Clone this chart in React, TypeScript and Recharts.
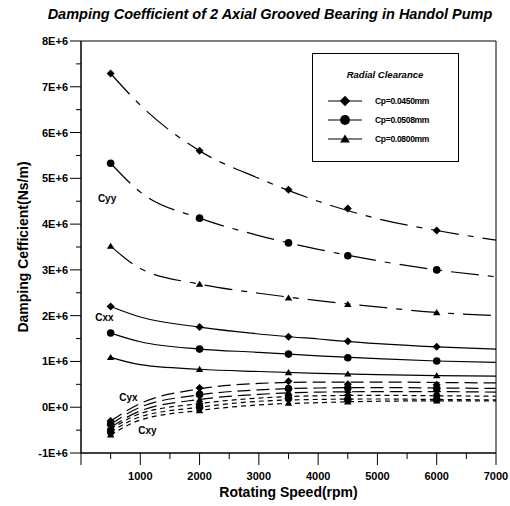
import { ComposedChart, Line, Scatter, XAxis, YAxis, ReferenceArea, ReferenceDot, Legend } from 'recharts'

const FONT = "'Liberation Sans', Arial, sans-serif"

const testSpeeds = [500, 2000, 3500, 4500, 6000]
const fitSpeeds = [500, 1000, 2000, 3000, 4000, 5000, 6000, 7000]

const xTicks = [0, 500, 1000, 1500, 2000, 2500, 3000, 3500, 4000, 4500, 5000, 5500, 6000, 6500, 7000]
const yTicks = [-1e6, -0.5e6, 0, 0.5e6, 1e6, 1.5e6, 2e6, 2.5e6, 3e6, 3.5e6, 4e6, 4.5e6, 5e6, 5.5e6, 6e6, 6.5e6, 7e6, 7.5e6, 8e6]
const yTickLabels: Record<string, string> = {
  '-1000000': '-1E+6', '0': '0E+0', '1000000': '1E+6', '2000000': '2E+6', '3000000': '3E+6',
  '4000000': '4E+6', '5000000': '5E+6', '6000000': '6E+6', '7000000': '7E+6', '8000000': '8E+6',
}

const clearances = ['Cp=0.0450mm', 'Cp=0.0508mm', 'Cp=0.0800mm']
const shapes = ['diamond', 'circle', 'triangle']

// Cyy
const cyy0450 = [7.29e6, 5.6e6, 4.75e6, 4.34e6, 3.86e6]
const cyy0508 = [5.33e6, 4.13e6, 3.59e6, 3.31e6, 3.0e6]
const cyy0800 = [3.52e6, 2.69e6, 2.39e6, 2.25e6, 2.07e6]
const cyy0450Fit = [7.29e6, 6.6e6, 5.6e6, 5.0e6, 4.5e6, 4.12e6, 3.86e6, 3.65e6]
const cyy0508Fit = [5.33e6, 4.7e6, 4.13e6, 3.75e6, 3.45e6, 3.2e6, 3.0e6, 2.85e6]
const cyy0800Fit = [3.52e6, 3.03e6, 2.69e6, 2.49e6, 2.33e6, 2.19e6, 2.07e6, 2.0e6]

// Cxx
const cxx0450 = [2.2e6, 1.75e6, 1.54e6, 1.44e6, 1.32e6]
const cxx0508 = [1.62e6, 1.27e6, 1.16e6, 1.08e6, 1.01e6]
const cxx0800 = [1.09e6, 0.83e6, 0.76e6, 0.73e6, 0.69e6]
const cxx0450Fit = [2.2e6, 1.97e6, 1.75e6, 1.6e6, 1.49e6, 1.39e6, 1.32e6, 1.27e6]
const cxx0508Fit = [1.62e6, 1.43e6, 1.27e6, 1.2e6, 1.12e6, 1.06e6, 1.01e6, 0.98e6]
const cxx0800Fit = [1.09e6, 0.93e6, 0.83e6, 0.78e6, 0.74e6, 0.71e6, 0.69e6, 0.68e6]

// Cyx
const cyx0450 = [-0.3e6, 0.42e6, 0.57e6, 0.5e6, 0.49e6]
const cyx0508 = [-0.37e6, 0.28e6, 0.41e6, 0.42e6, 0.41e6]
const cyx0800 = [-0.44e6, 0.17e6, 0.33e6, 0.37e6, 0.33e6]
const cyx0450Fit = [-0.3e6, 0.08e6, 0.4e6, 0.52e6, 0.55e6, 0.55e6, 0.54e6, 0.53e6]
const cyx0508Fit = [-0.37e6, 0.0, 0.27e6, 0.38e6, 0.42e6, 0.43e6, 0.42e6, 0.41e6]
const cyx0800Fit = [-0.44e6, -0.08e6, 0.17e6, 0.28e6, 0.33e6, 0.34e6, 0.34e6, 0.33e6]

// Cxy
const cxy0450 = [-0.48e6, 0.07e6, 0.26e6, 0.26e6, 0.25e6]
const cxy0508 = [-0.54e6, 0.0, 0.19e6, 0.17e6, 0.17e6]
const cxy0800 = [-0.6e6, -0.07e6, 0.09e6, 0.12e6, 0.14e6]
const cxy0450Fit = [-0.48e6, -0.14e6, 0.08e6, 0.2e6, 0.25e6, 0.26e6, 0.25e6, 0.24e6]
const cxy0508Fit = [-0.54e6, -0.21e6, 0.0, 0.13e6, 0.17e6, 0.18e6, 0.17e6, 0.16e6]
const cxy0800Fit = [-0.6e6, -0.28e6, -0.07e6, 0.05e6, 0.1e6, 0.13e6, 0.14e6, 0.14e6]

const toRows = (xs: number[], ys: number[]) => xs.map((x, i) => ({ x, y: ys[i] }))

const groups = [
  { name: 'Cyy', dash: '28 9 6 9', test: [cyy0450, cyy0508, cyy0800], fit: [cyy0450Fit, cyy0508Fit, cyy0800Fit] },
  { name: 'Cxx', dash: undefined, test: [cxx0450, cxx0508, cxx0800], fit: [cxx0450Fit, cxx0508Fit, cxx0800Fit] },
  { name: 'Cyx', dash: '13 6', test: [cyx0450, cyx0508, cyx0800], fit: [cyx0450Fit, cyx0508Fit, cyx0800Fit] },
  { name: 'Cxy', dash: '5 4', test: [cxy0450, cxy0508, cxy0800], fit: [cxy0450Fit, cxy0508Fit, cxy0800Fit] },
]

const annotations = [
  { text: 'Cyy', x: 440, y: 4.56e6 },
  { text: 'Cxx', x: 395, y: 1.97e6 },
  { text: 'Cyx', x: 800, y: 0.22e6 },
  { text: 'Cxy', x: 1120, y: -0.5e6 },
]

function Marker({ kind, cx, cy, s = 1 }: { kind: string; cx: number; cy: number; s?: number }) {
  if (kind === 'diamond') {
    const r = 4 * s
    return <polygon points={`${cx},${cy - r} ${cx + r},${cy} ${cx},${cy + r} ${cx - r},${cy}`} fill="#000" />
  }
  if (kind === 'circle') return <circle cx={cx} cy={cy} r={3.8 * s} fill="#000" />
  const h = 3.4 * s
  return <polygon points={`${cx},${cy - h} ${cx + h * 1.1},${cy + h * 0.8} ${cx - h * 1.1},${cy + h * 0.8}`} fill="#000" />
}

const XTick = ({ x, y, payload }: any) => {
  const v = payload.value
  const major = v % 1000 === 0
  return (
    <g>
      <line x1={x} y1={y} x2={x} y2={y + (major ? 12 : 6)} stroke="#000" strokeWidth={1} />
      {major && v > 0 && (
        <text x={x} y={y + 27} textAnchor="middle" fontSize={11} fontWeight="bold" fontFamily={FONT} fill="#000">
          {v}
        </text>
      )}
    </g>
  )
}

const YTick = ({ x, y, payload }: any) => {
  const label = yTickLabels[String(payload.value)]
  return (
    <g>
      <line x1={x} y1={y} x2={x - (label ? 11 : 5)} y2={y} stroke="#000" strokeWidth={1} />
      {label && (
        <text x={x - 13} y={y + 4} textAnchor="end" fontSize={11} fontWeight="bold" fontFamily={FONT} fill="#000">
          {label}
        </text>
      )}
    </g>
  )
}

const LegendBox = () => (
  <svg width={147} height={109} style={{ display: 'block' }}>
    <rect x={0.5} y={0.5} width={146} height={108} fill="#fff" stroke="#000" strokeWidth={1} />
    <text x={73} y={25} textAnchor="middle" fontSize={9.5} fontStyle="italic" fontWeight="bold" fontFamily={FONT} fill="#000">
      Radial Clearance
    </text>
    {clearances.map((c, i) => {
      const cy = 48 + i * 19
      return (
        <g key={c}>
          <line x1={16} y1={cy} x2={50} y2={cy} stroke="#000" strokeWidth={1.2} />
          <Marker kind={shapes[i]} cx={33} cy={cy} s={1.3} />
          <text x={63} y={cy + 3} fontSize={8.5} fontWeight="bold" fontFamily={FONT} fill="#000" letterSpacing={-0.3}>
            {c}
          </text>
        </g>
      )
    })}
  </svg>
)

const YLabel = ({ viewBox }: any) => {
  const cx = viewBox.x + 23
  const cy = viewBox.y + viewBox.height / 2
  return (
    <text transform={`translate(${cx},${cy}) rotate(-90)`} textAnchor="middle" dominantBaseline="central" fontSize={14} fontWeight="bold" fontFamily={FONT} fill="#000">
      Damping Cefficient(Ns/m)
    </text>
  )
}

export default function App() {
  return (
    <div style={{ position: 'absolute', left: 0, top: 0, width: 510, height: 506, background: '#fff' }}>
      <div
        style={{
          position: 'absolute', left: 0, top: 6, width: 540, textAlign: 'center', zIndex: 2,
          fontFamily: FONT, fontWeight: 'bold', fontStyle: 'italic', fontSize: 14.5, color: '#000',
        }}
      >
        Damping Coefficient of 2 Axial Grooved Bearing in Handol Pump
      </div>
      <ComposedChart width={510} height={506} margin={{ top: 41, right: 14, bottom: 0, left: 0 }}>
        <XAxis
          dataKey="x"
          type="number"
          domain={[0, 7000]}
          ticks={xTicks}
          interval={0}
          height={53}
          tickSize={0}
          tickMargin={0}
          tickLine={false}
          axisLine={{ stroke: '#000' }}
          tick={<XTick />}
          label={{ value: 'Rotating Speed(rpm)', position: 'insideBottom', offset: 9, fontSize: 14, fontWeight: 'bold', fontFamily: FONT, fill: '#000' }}
        />
        <YAxis
          type="number"
          domain={[-1e6, 8e6]}
          ticks={yTicks}
          interval={0}
          width={81}
          tickSize={0}
          tickMargin={0}
          tickLine={false}
          axisLine={{ stroke: '#000' }}
          tick={<YTick />}
          label={YLabel}
        />
        <ReferenceArea x1={0} x2={7000} y1={-1e6} y2={8e6} fill="none" stroke="#000" strokeWidth={1} />
        {groups.map((g) =>
          g.fit.map((vals, i) => (
            <Line
              key={`${g.name}-fit-${i}`}
              data={toRows(fitSpeeds, vals)}
              dataKey="y"
              type="monotone"
              stroke="#000"
              strokeWidth={1.2}
              strokeDasharray={g.dash}
              dot={false}
              activeDot={false}
              legendType="none"
              isAnimationActive={false}
            />
          ))
        )}
        {groups.map((g) =>
          g.test.map((vals, i) => (
            <Scatter
              key={`${g.name}-test-${i}`}
              data={toRows(testSpeeds, vals)}
              dataKey="y"
              shape={(p: any) => <Marker kind={shapes[i]} cx={p.cx} cy={p.cy} />}
              legendType="none"
              isAnimationActive={false}
            />
          ))
        )}
        {annotations.map((a) => (
          <ReferenceDot
            key={a.text}
            x={a.x}
            y={a.y}
            r={0}
            ifOverflow="visible"
            shape={(p: any) => (
              <text x={p.cx} y={p.cy + 4} textAnchor="middle" fontSize={10} fontWeight="bold" fontFamily={FONT} fill="#000">
                {a.text}
              </text>
            )}
          />
        ))}
        <Legend
          layout="horizontal"
          verticalAlign="middle"
          align="center"
          content={<LegendBox />}
          wrapperStyle={{ left: 312, top: 53, width: 147, height: 109 }}
        />
      </ComposedChart>
    </div>
  )
}
